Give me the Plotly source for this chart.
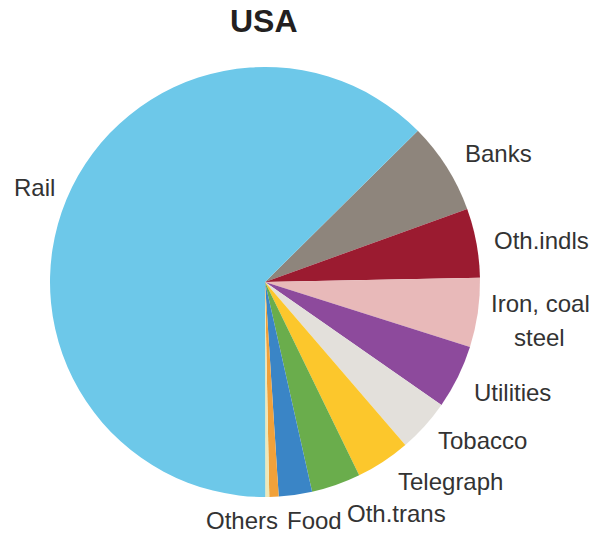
import plotly.graph_objects as go

# Slices in clockwise order, starting at the Rail/Banks boundary
categories = ["Banks", "Oth.indls", "Iron, coal steel", "Utilities", "Tobacco",
              "Telegraph", "Oth.trans", "Food", "Others", "Others (minor)", "Rail"]
values = [6.9, 5.2, 5.2, 4.8, 4.0, 4.1, 3.7, 2.5, 0.7, 0.3, 62.6]
colors = ["#8E857C", "#9B1B30", "#E8B9B9", "#8D4A9C", "#E3E0DB",
          "#FCC72C", "#6AAD4C", "#3A85C6", "#F1A13A", "#EDE8B8", "#6DC8E9"]

# Outer labels
label_texts = ["Rail", "Banks", "Oth.indls", "Iron, coal", "steel", "Utilities",
               "Tobacco", "Telegraph", "Oth.trans", "Food", "Others"]

W, H = 590, 533
cx, cy, r = 265, 282, 215

fig = go.Figure(go.Pie(
    labels=categories,
    values=values,
    marker=dict(colors=colors, line=dict(width=0)),
    sort=False,
    direction="clockwise",
    rotation=45.3,
    textinfo="none",
    hoverinfo="label+percent",
    domain=dict(x=[(cx - r) / W, (cx + r) / W], y=[(H - (cy + r)) / H, (H - (cy - r)) / H]),
    showlegend=False,
))

positions = [(12, 187, "left"), (463, 153, "left"), (492, 240, "left"),
             (540, 303, "center"), (539, 337, "center"), (472, 392, "left"),
             (436, 440, "left"), (396, 481, "left"), (345, 513, "left"),
             (285, 520, "left"), (204, 520, "left")]

annotations = []
for txt, (px, py, anc) in zip(label_texts, positions):
    annotations.append(dict(
        text=txt, x=px / W, y=1 - py / H, xref="paper", yref="paper",
        xanchor=anc, yanchor="middle", showarrow=False,
        font=dict(family="Liberation Sans, Arial, sans-serif", size=24, color="#333333"),
    ))
annotations.append(dict(
    text="<b>USA</b>", x=264 / W, y=1 - 21 / H, xref="paper", yref="paper",
    xanchor="center", yanchor="middle", showarrow=False,
    font=dict(family="Liberation Sans, Arial, sans-serif", size=32, color="#231F20"),
))

fig.update_layout(
    width=W, height=H,
    margin=dict(l=0, r=0, t=0, b=0),
    paper_bgcolor="white", plot_bgcolor="white",
    annotations=annotations,
)

fig.write_html("out.html")
